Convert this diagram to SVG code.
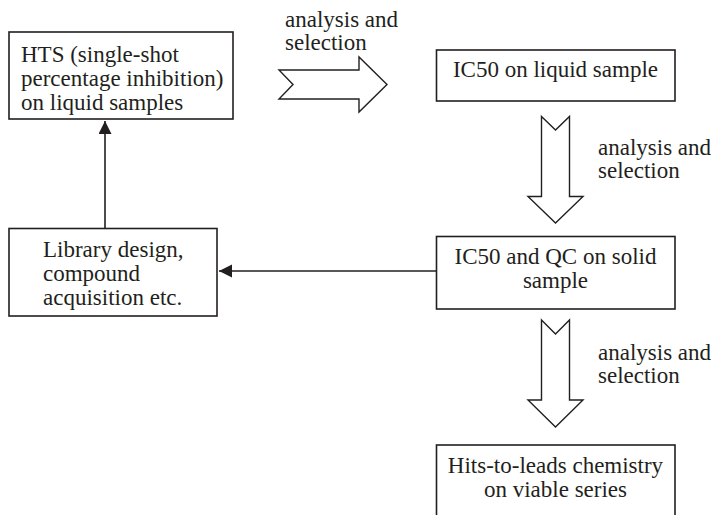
<svg xmlns="http://www.w3.org/2000/svg" width="713" height="515" viewBox="0 0 713 515">
<style>
.box{fill:#fff;stroke:#231f20;stroke-width:1.6}
.big{fill:#fff;stroke:#231f20;stroke-width:1.4;stroke-linejoin:miter}
.ln{fill:none;stroke:#231f20;stroke-width:1.6}
text{font-family:'Liberation Serif','Times New Roman',serif;font-size:23px;fill:#231f20}
.c{text-anchor:middle}
</style>
<defs>
<marker id="ah" markerWidth="14" markerHeight="14" refX="13" refY="6.5" orient="auto" markerUnits="userSpaceOnUse">
<path d="M0,0 L13,6.5 L0,13 Z" fill="#231f20"/>
</marker>
</defs>
<rect width="713" height="515" fill="#fff"/>
<g id="connectors">
<line class="ln" x1="105" y1="228" x2="105" y2="121" marker-end="url(#ah)"/>
<line class="ln" x1="436" y1="271" x2="219" y2="271" marker-end="url(#ah)"/>
<polygon class="big" points="279,70 359,70 359,57 387,84.5 359,112 359,99 279,99 293,84.5"/>
<polygon class="big" points="541.5,116.5 555.5,130 569.5,116.5 569.5,196.5 583,196.5 555.5,223 528,196.5 541.5,196.5"/>
<polygon class="big" points="541.5,320 555.5,334 569.5,320 569.5,400 583,400 555.5,427 528,400 541.5,400"/>
<text x="285" y="27">analysis and</text>
<text x="285" y="50">selection</text>
<text x="598" y="155">analysis and</text>
<text x="598" y="178">selection</text>
<text x="598" y="360">analysis and</text>
<text x="598" y="383">selection</text>
</g>
<g id="hts">
<rect class="box" x="9" y="32" width="224" height="87"/>
<text x="21" y="62">HTS (single-shot</text>
<text x="21" y="86">percentage inhibition)</text>
<text x="21" y="110">on liquid samples</text>
</g>
<g id="ic50-liquid">
<rect class="box" x="436.5" y="50" width="238.5" height="51"/>
<text class="c" x="555.5" y="77">IC50 on liquid sample</text>
</g>
<g id="library">
<rect class="box" x="9" y="228.5" width="208" height="87.5"/>
<text x="43" y="257">Library design,</text>
<text x="43" y="281">compound</text>
<text x="43" y="305">acquisition etc.</text>
</g>
<g id="ic50-solid">
<rect class="box" x="436.5" y="236.5" width="238.5" height="72.5"/>
<text class="c" x="555.5" y="264">IC50 and QC on solid</text>
<text class="c" x="555.5" y="288">sample</text>
</g>
<g id="hits">
<rect class="box" x="436.5" y="445" width="238.5" height="80"/>
<text class="c" x="555.5" y="473">Hits-to-leads chemistry</text>
<text class="c" x="555.5" y="497">on viable series</text>
</g>
</svg>
